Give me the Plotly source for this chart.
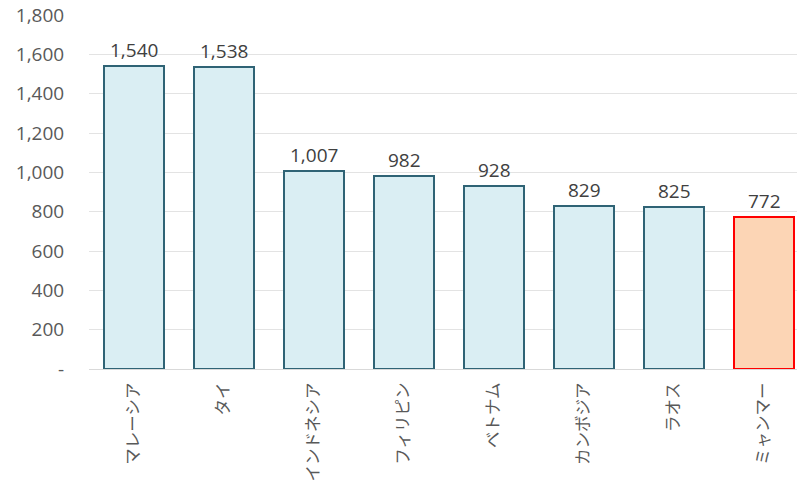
import plotly.graph_objects as go

categories = ["マレーシア", "タイ", "インドネシア", "フィリピン", "ベトナム", "カンボジア", "ラオス", "ミャンマー"]
values = [1540, 1538, 1007, 982, 928, 829, 825, 772]
fill_colors = ["#DAEEF3"] * 7 + ["#FCD5B5"]
line_colors = ["#2F6375"] * 7 + ["#FF0000"]
y_tickvals = [0, 200, 400, 600, 800, 1000, 1200, 1400, 1600, 1800]
y_ticktext = ["-", "200", "400", "600", "800", "1,000", "1,200", "1,400", "1,600", "1,800"]

FONT = "'Open Sans', 'Noto Sans CJK JP', sans-serif"
JP_FONT = "'Noto Sans CJK JP', sans-serif"

fig = go.Figure(go.Bar(
    x=list(range(len(categories))),
    y=values,
    width=0.667,
    marker=dict(color=fill_colors, line=dict(color=line_colors, width=2)),
    cliponaxis=False,
    hoverinfo="skip",
))

for i, v in enumerate(values):
    fig.add_annotation(
        x=i, y=v, text=f"{v:,}", showarrow=False,
        yanchor="bottom", yshift=1,
        font=dict(size=19, color="#404040", family=FONT),
    )

fig.update_layout(
    width=797, height=485,
    margin=dict(l=89, r=0, t=15, b=116, autoexpand=False),
    paper_bgcolor="white", plot_bgcolor="white",
    showlegend=False,
    font=dict(family=FONT, color="#595959"),
    bargap=0,
)
fig.update_xaxes(
    range=[-0.5, 7.5 - 12 / 90],
    tickvals=list(range(len(categories))),
    ticktext=categories,
    tickangle=-90,
    tickfont=dict(size=16.5, color="#595959", family=JP_FONT),
    showgrid=False, zeroline=False, showline=False,
    ticks="outside", ticklen=6, tickcolor="rgba(0,0,0,0)",
    automargin=False,
)
fig.update_yaxes(
    range=[0, 1800],
    tickvals=y_tickvals,
    ticktext=y_ticktext,
    tickfont=dict(size=19, color="#595959", family=FONT),
    showgrid=True, gridcolor="#E3E3E3", gridwidth=1,
    zeroline=True, zerolinecolor="#D9D9D9", zerolinewidth=1,
    showline=False,
    ticks="outside", ticklen=20, tickcolor="rgba(0,0,0,0)",
    automargin=False,
)

fig.write_html(
    "out.html",
    config={"displayModeBar": False},
    post_script="document.body.style.margin='0px';document.body.style.overflow='hidden';",
)
